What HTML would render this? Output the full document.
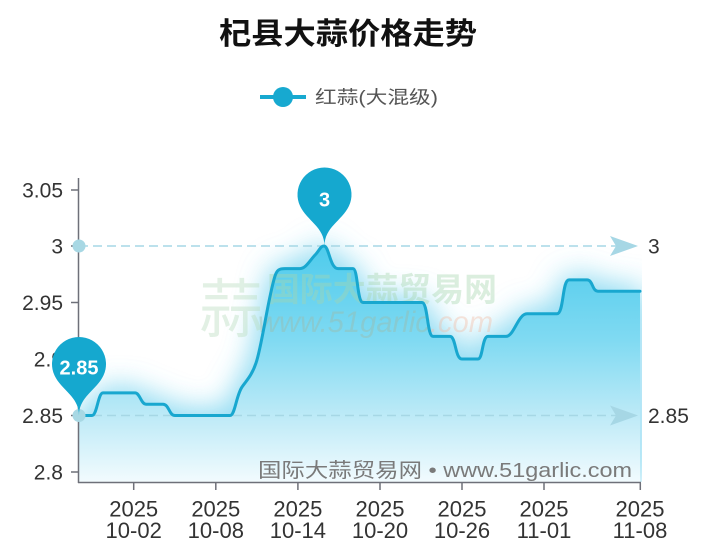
<!DOCTYPE html>
<html><head><meta charset="utf-8">
<style>
html,body{margin:0;padding:0;background:#fff;}
svg{display:block;}
text{font-family:"Liberation Sans","Noto Sans CJK SC",sans-serif;}
</style></head><body>
<svg width="701" height="553" viewBox="0 0 701 553" xmlns="http://www.w3.org/2000/svg">
<defs>
<linearGradient id="ag" x1="0" y1="246" x2="0" y2="482" gradientUnits="userSpaceOnUse">
<stop offset="0" stop-color="#4ecbec"/>
<stop offset="0.4" stop-color="#80daf2"/>
<stop offset="0.72" stop-color="#bdeaf7"/>
<stop offset="1" stop-color="#f2fbfe"/>
</linearGradient>
<filter id="blur" x="-20%" y="-40%" width="140%" height="180%"><feGaussianBlur stdDeviation="16"/></filter>
<clipPath id="pc"><rect x="79" y="150" width="563" height="332"/></clipPath>
<path id="ln" d="M79,415.5 L92,415.5 C97,415.5 98,392.9 103,392.9 L135,392.9 C140,392.9 141,404.2 146,404.2 L163,404.2 C169,404.2 169,415.5 175,415.5 L230,415.5 C235,415.5 236,396 242,387 C247,380 252,375 256,363 C262,346 268,298 275,276 C277,270 279,268.6 285,268.6 L300,268.6 C306,268.6 310,260 316,254 C320,249 321,246 324,246 C329,246 330,268.6 338,268.6 L353,268.6 C358,268.6 357,302.5 363,302.5 L422,302.5 C428,302.5 427,336.4 433,336.4 L450,336.4 C456,336.4 455,359 462,359 L478,359 C483,359 482,336.4 488,336.4 L506,336.4 C514,336.4 518,313.8 527,313.8 L557,313.8 C564,313.8 562,279.9 569,279.9 L587,279.9 C593,279.9 592,291.2 598,291.2 L640,291.2"/>
<path id="ar" d="M79,415.5 L92,415.5 C97,415.5 98,392.9 103,392.9 L135,392.9 C140,392.9 141,404.2 146,404.2 L163,404.2 C169,404.2 169,415.5 175,415.5 L230,415.5 C235,415.5 236,396 242,387 C247,380 252,375 256,363 C262,346 268,298 275,276 C277,270 279,268.6 285,268.6 L300,268.6 C306,268.6 310,260 316,254 C320,249 321,246 324,246 C329,246 330,268.6 338,268.6 L353,268.6 C358,268.6 357,302.5 363,302.5 L422,302.5 C428,302.5 427,336.4 433,336.4 L450,336.4 C456,336.4 455,359 462,359 L478,359 C483,359 482,336.4 488,336.4 L506,336.4 C514,336.4 518,313.8 527,313.8 L557,313.8 C564,313.8 562,279.9 569,279.9 L587,279.9 C593,279.9 592,291.2 598,291.2 L640,291.2 L640,482 L79,482 Z"/>
</defs>

<!-- title -->
<text x="348" y="44" font-size="30" font-weight="bold" fill="#111" text-anchor="middle" textLength="258" lengthAdjust="spacingAndGlyphs">杞县大蒜价格走势</text>

<!-- legend -->
<line x1="260" y1="97" x2="306" y2="97" stroke="#17a9d0" stroke-width="4"/>
<circle cx="283" cy="97" r="10" fill="#17a9d0"/>
<text x="315" y="103.5" font-size="18" fill="#555" textLength="123" lengthAdjust="spacingAndGlyphs">红蒜(大混级)</text>

<!-- area glow + fill -->
<g clip-path="url(#pc)">
<use href="#ar" filter="url(#blur)" fill="#7fd6f0"/>
<use href="#ar" filter="url(#blur)" fill="#9fe0f4" opacity="0.8"/>
<use href="#ar" fill="url(#ag)"/>
</g>

<!-- big watermark -->
<g opacity="0.4">
<text x="231" y="332" font-size="64" fill="#b7dcbd" text-anchor="middle">蒜</text>
<text x="267" y="301" font-size="33" font-weight="bold" fill="#a6d6ae" textLength="230" lengthAdjust="spacingAndGlyphs">国际大蒜贸易网</text>
<text x="258" y="332" font-size="30" font-style="italic" textLength="235" lengthAdjust="spacingAndGlyphs"><tspan fill="#9fb9a5">www.51garlic</tspan><tspan fill="#f2bca6">.com</tspan></text>
</g>

<!-- mark lines -->
<g stroke="#a6d7e5" stroke-width="1.5" stroke-dasharray="9 5" fill="none">
<line x1="79" y1="246" x2="622" y2="246"/>
<line x1="79" y1="415.5" x2="622" y2="415.5"/>
</g>
<path d="M638,246 L610,236 L616,246 L610,256 Z" fill="#a6d7e5"/>
<path d="M638,415.5 L610,405.5 L616,415.5 L610,425.5 Z" fill="#a6d7e5"/>
<text x="648" y="253.5" font-size="21" fill="#333">3</text>
<text x="648" y="423" font-size="21" fill="#333">2.85</text>

<!-- series line -->
<use href="#ln" fill="none" stroke="#18a7cf" stroke-width="3" stroke-linejoin="round" stroke-linecap="round"/>

<!-- axes -->
<g stroke="#6e7079" stroke-width="1.5" fill="none">
<line x1="78.5" y1="178" x2="78.5" y2="483"/>
<line x1="78" y1="482.5" x2="641" y2="482.5"/>
<line x1="71" y1="190" x2="78" y2="190"/>
<line x1="71" y1="246" x2="78" y2="246"/>
<line x1="71" y1="302.5" x2="78" y2="302.5"/>
<line x1="71" y1="359" x2="78" y2="359"/>
<line x1="71" y1="415.5" x2="78" y2="415.5"/>
<line x1="71" y1="472" x2="78" y2="472"/>
<line x1="133.7" y1="483" x2="133.7" y2="490"/>
<line x1="215.8" y1="483" x2="215.8" y2="490"/>
<line x1="297.9" y1="483" x2="297.9" y2="490"/>
<line x1="380" y1="483" x2="380" y2="490"/>
<line x1="462" y1="483" x2="462" y2="490"/>
<line x1="544" y1="483" x2="544" y2="490"/>
<line x1="640.3" y1="483" x2="640.3" y2="490"/>
</g>

<circle cx="79" cy="246" r="6.5" fill="#a8d8e4"/>
<circle cx="79" cy="415.5" r="6.5" fill="#a8d8e4"/>

<!-- y labels -->
<g font-size="21" fill="#333" text-anchor="end">
<text x="63" y="197.5">3.05</text>
<text x="63" y="253.5">3</text>
<text x="63" y="310">2.95</text>
<text x="63" y="366.5">2.9</text>
<text x="63" y="423">2.85</text>
<text x="63" y="479.5">2.8</text>
</g>

<!-- x labels -->
<g font-size="22" fill="#333" text-anchor="middle">
<text x="133.7" y="516.5">2025</text><text x="133.7" y="538">10-02</text>
<text x="215.8" y="516.5">2025</text><text x="215.8" y="538">10-08</text>
<text x="297.9" y="516.5">2025</text><text x="297.9" y="538">10-14</text>
<text x="380" y="516.5">2025</text><text x="380" y="538">10-20</text>
<text x="462" y="516.5">2025</text><text x="462" y="538">10-26</text>
<text x="544" y="516.5">2025</text><text x="544" y="538">11-01</text>
<text x="640" y="516.5">2025</text><text x="640" y="538">11-08</text>
</g>

<!-- bottom watermark text -->
<text x="258" y="477" font-size="20" fill="#7a7a7a" textLength="374" lengthAdjust="spacingAndGlyphs">国际大蒜贸易网 • www.51garlic.com</text>

<!-- pins -->
<g fill="#15a8cf">
<path transform="translate(324.5,246)" d="M-24.39,-39.86 A27,27 0 1 1 24.39,-39.86 C17.45,-25.2 0,-18.9 0,0 C0,-18.9 -17.45,-25.2 -24.39,-39.86Z"/>
<path transform="translate(79,415.5)" d="M-24.39,-39.86 A27,27 0 1 1 24.39,-39.86 C17.45,-25.2 0,-18.9 0,0 C0,-18.9 -17.45,-25.2 -24.39,-39.86Z"/>
</g>
<text x="324.5" y="206.5" font-size="20" font-weight="bold" fill="#fff" text-anchor="middle">3</text>
<text x="79" y="374.5" font-size="20" font-weight="bold" fill="#fff" text-anchor="middle">2.85</text>
</svg>
</body></html>
